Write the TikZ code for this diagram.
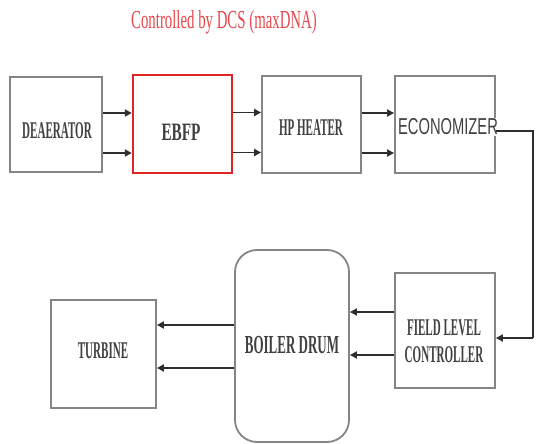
\documentclass[tikz,border=0pt]{standalone}
\usepackage{fontspec}
\usetikzlibrary{arrows.meta}
\setmainfont{Liberation Serif}
\newfontfamily\condA[FakeStretch=0.46]{Liberation Serif}
\newfontfamily\condB[FakeStretch=0.50]{Liberation Serif}
\newfontfamily\condC[FakeStretch=0.61]{Liberation Serif}
\newfontfamily\condT[FakeStretch=0.57]{Liberation Serif}
\newfontfamily\condS[FakeStretch=0.64]{Liberation Sans}
\definecolor{boxgray}{HTML}{858585}
\definecolor{txtgray}{HTML}{404040}
\definecolor{arrgray}{HTML}{2E2E2E}
\definecolor{ttlred}{HTML}{E8474B}
\definecolor{boxred}{HTML}{E02424}
\begin{document}
\begin{tikzpicture}[x=1pt,y=-1pt,
  blk/.style={draw=boxgray,line width=1.8pt,inner sep=0pt,fill=white},
  lbl/.style={text=txtgray,inner sep=0pt,font=\fontsize{24}{27}\condA\bfseries,align=center},
  flow/.style={draw=arrgray,line width=1.8pt,-{Triangle[length=7pt,width=7pt]}},
  link/.style={draw=arrgray,line width=1.8pt}]
\useasboundingbox (0,0) rectangle (536,444);
% title
\node[text=ttlred,inner sep=0pt,font=\fontsize{26}{28}\condT] (title) at (224,22) {Controlled by DCS (maxDNA)};
% top row
\node[blk,minimum width=92pt,minimum height=95pt] (dea) at (56,124.5) {};
\node[blk,draw=boxred,line width=2.4pt,minimum width=99pt,minimum height=98pt] (ebfp) at (182.5,124) {};
\node[blk,minimum width=99pt,minimum height=97pt] (hp) at (311.5,124.5) {};
\node[blk,minimum width=100pt,minimum height=97pt] (eco) at (445,124.5) {};
% bottom row
\node[blk,minimum width=100pt,minimum height=115pt] (flc) at (445,330.5) {};
\node[blk,rounded corners=22pt,minimum width=114pt,minimum height=192pt] (drum) at (292,346) {};
\node[blk,minimum width=105pt,minimum height=108pt] (tur) at (103.5,354) {};
% labels
\node[lbl] (deat) at (57,131) {DEAERATOR};
\node[lbl,font=\fontsize{25}{27}\condC\bfseries] (ebfpt) at (181,132) {EBFP};
\node[lbl] (hpt) at (311,128) {HP HEATER};
\node[lbl,font=\fontsize{23}{24}\condS,fill=white,inner sep=1pt] (ecot) at (448,127) {ECONOMIZER};
\node[lbl] (flct) at (444,341) {FIELD LEVEL\\CONTROLLER};
\node[lbl,font=\fontsize{26}{27}\condB\bfseries] (drumt) at (292,345) {BOILER DRUM};
\node[lbl] (turt) at (103,351) {TURBINE};
% top row arrows
\foreach \a/\b in {dea/ebfp,ebfp/hp,hp/eco}{
  \draw[flow] ([yshift=11.5pt]\a.east) -- ([yshift=11.5pt]\a.east -| \b.west);
  \draw[flow] ([yshift=-28.5pt]\a.east) -- ([yshift=-28.5pt]\a.east -| \b.west);
}
% feedback from economizer to field level controller
\coordinate (fbtop) at (533,131);
\coordinate (fbbot) at (533,338);
\draw[link] ([yshift=-6.5pt]eco.east) -- (fbtop) -- (fbbot);
\draw[flow] (fbbot) -- (fbbot -| flc.east);
% controller to drum
\draw[flow] ([yshift=18.5pt]flc.west) -- ([yshift=18.5pt]flc.west -| drum.east);
\draw[flow] ([yshift=-24.5pt]flc.west) -- ([yshift=-24.5pt]flc.west -| drum.east);
% drum to turbine
\draw[flow] ([yshift=21pt]drum.west) -- ([yshift=21pt]drum.west -| tur.east);
\draw[flow] ([yshift=-22pt]drum.west) -- ([yshift=-22pt]drum.west -| tur.east);
\end{tikzpicture}
\end{document}
